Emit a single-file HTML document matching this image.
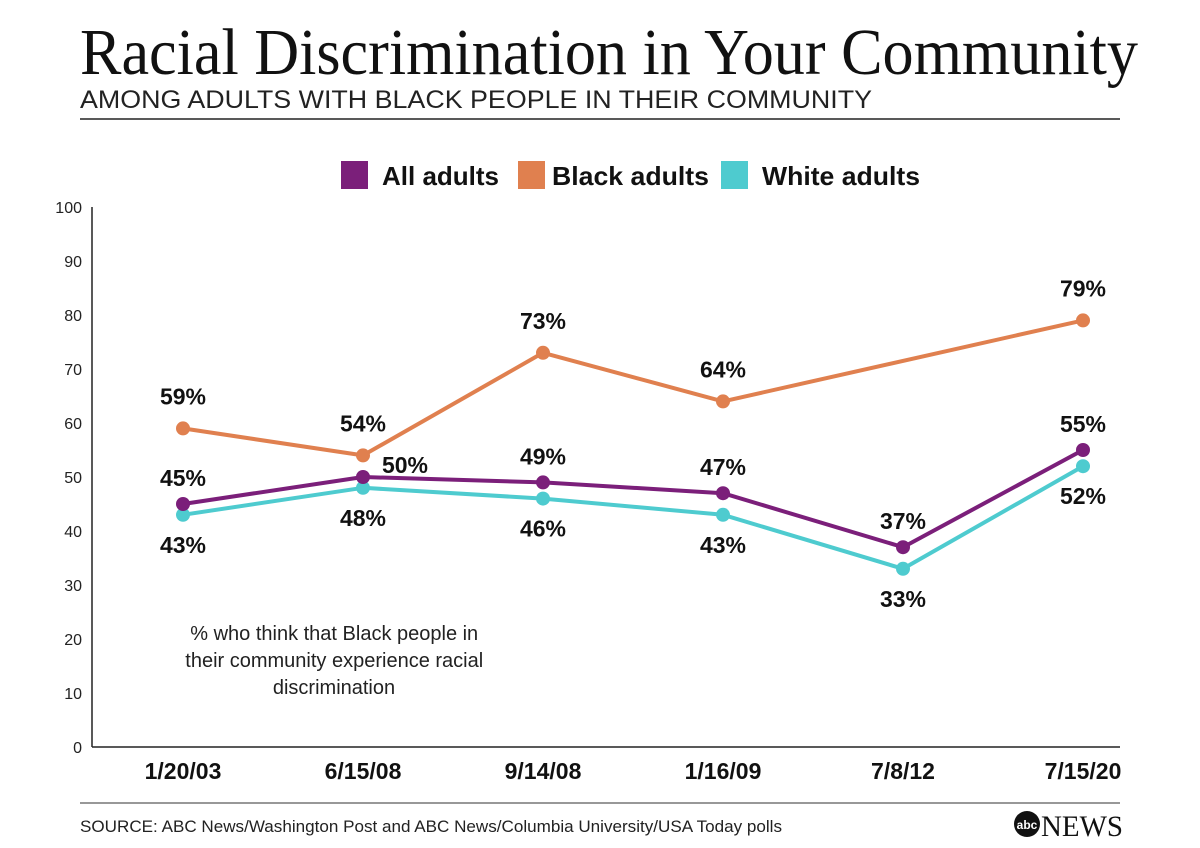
<!DOCTYPE html>
<html><head><meta charset="utf-8"><style>
body{margin:0;background:#fff;}
svg{display:block;}
</style></head><body>
<svg id="chart" width="1200" height="848" xmlns="http://www.w3.org/2000/svg" font-family="Liberation Sans, sans-serif">
<rect width="1200" height="848" fill="#fff"/>
<text x="80" y="74" font-family="Liberation Serif, serif" font-size="66" textLength="1058" lengthAdjust="spacingAndGlyphs" fill="#111">Racial Discrimination in Your Community</text>
<text x="80" y="108" font-size="25" textLength="792" lengthAdjust="spacingAndGlyphs" fill="#222">AMONG ADULTS WITH BLACK PEOPLE IN THEIR COMMUNITY</text>
<line x1="80" y1="119" x2="1120" y2="119" stroke="#222" stroke-width="1.5"/>
<g font-weight="bold" font-size="26" fill="#111">
<g><rect x="341" y="161" width="27" height="28" fill="#7b1f7a"/><text x="382" y="185" textLength="117" lengthAdjust="spacingAndGlyphs">All adults</text></g>
<g><rect x="518" y="161" width="27" height="28" fill="#e0804f"/><text x="552" y="185" textLength="157" lengthAdjust="spacingAndGlyphs">Black adults</text></g>
<g><rect x="721" y="161" width="27" height="28" fill="#4ecbcf"/><text x="762" y="185" textLength="158" lengthAdjust="spacingAndGlyphs">White adults</text></g>
</g>
<g id="axes"></g>
<g id="marks"></g>
<text font-size="20" fill="#222" text-anchor="middle">
<tspan x="337" y="640">% who think that Black people in</tspan>
<tspan x="337" y="667">their community experience racial</tspan>
<tspan x="334" y="694">discrimination</tspan>
</text>
<line x1="80" y1="803" x2="1120" y2="803" stroke="#777" stroke-width="1.5"/>
<text x="80" y="832" font-size="17" fill="#222" textLength="702" lengthAdjust="spacingAndGlyphs">SOURCE: ABC News/Washington Post and ABC News/Columbia University/USA Today polls</text>
<g>
<circle cx="1027" cy="824" r="13" fill="#111"/>
<text x="1027" y="829" font-size="12" font-weight="bold" fill="#fff" text-anchor="middle">abc</text>
<text x="1041" y="836" font-family="Liberation Serif, serif" font-size="30" fill="#111" textLength="82" lengthAdjust="spacingAndGlyphs">NEWS</text>
</g>
</svg>
<script>
const categories=["1/20/03","6/15/08","9/14/08","1/16/09","7/8/12","7/15/20"];
const allAdults=[45,50,49,47,37,55];
const blackAdults=[59,54,73,64,null,79];
const whiteAdults=[43,48,46,43,33,52];
const yTicks=[0,10,20,30,40,50,60,70,80,90,100];
const NS="http://www.w3.org/2000/svg";
const x=i=>183+i*180;
const y=v=>747-v*5.4;
function mk(tag,attrs,parent,txt){const e=document.createElementNS(NS,tag);for(const k in attrs)e.setAttribute(k,attrs[k]);if(txt!=null)e.textContent=txt;parent.appendChild(e);return e;}
const axes=document.getElementById('axes'),marks=document.getElementById('marks');
let e=mk('line',{x1:92,y1:y(100),x2:92,y2:y(0),stroke:'#222','stroke-width':1.5},axes);


e=mk('line',{x1:92,y1:y(0),x2:1120,y2:y(0),stroke:'#222','stroke-width':1.5},axes);


yTicks.forEach(t=>{const el=mk('text',{x:82,y:y(t)+6,'font-size':16,'text-anchor':'end',fill:'#222'},axes,t);

});
categories.forEach((c,i)=>{const el=mk('text',{x:x(i),y:779,'font-size':23,'font-weight':'bold','text-anchor':'middle',fill:'#111'},axes,c);

});
function series(vals,color,name,labelPos){
  let pts=[];vals.forEach((v,i)=>{if(v!=null)pts.push(x(i)+','+y(v));});
  const pl=mk('polyline',{points:pts.join(' '),fill:'none',stroke:color,'stroke-width':4,'stroke-linejoin':'round'},marks);
  
  
  vals.forEach((v,i)=>{if(v==null)return;
    const c=mk('circle',{cx:x(i),cy:y(v),r:7,fill:color},marks);
    
    
    const p=labelPos(i);
    const t=mk('text',{x:x(i)+p[0],y:y(v)+p[1],'font-size':23,'font-weight':'bold','text-anchor':'middle',fill:'#111'},marks,v+'%');
    
    
  });
}
series(blackAdults,'#e0804f','black-adults',i=>[0,-24]);
series(whiteAdults,'#4ecbcf','white-adults',i=>[0,38]);
series(allAdults,'#7b1f7a','all-adults',i=>i==1?[42,-4]:[0,-18]);
</script>
</body></html>
